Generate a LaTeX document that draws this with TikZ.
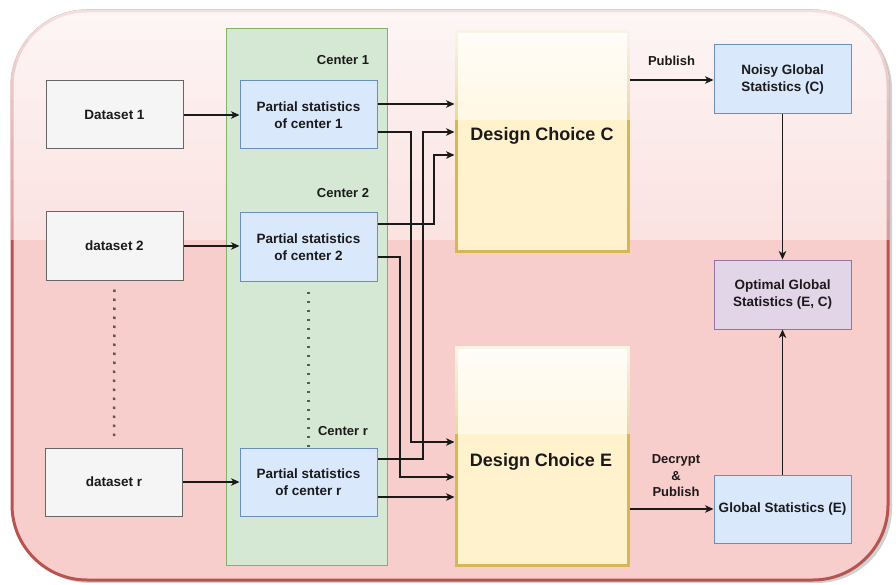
\documentclass[tikz,border=0pt]{standalone}
\usepackage{fontspec}
\setmainfont{Liberation Sans}
\usetikzlibrary{arrows.meta}
\definecolor{grayfill}{HTML}{F5F5F5}
\definecolor{grayline}{HTML}{666666}
\definecolor{bluefill}{HTML}{DAE8FC}
\definecolor{blueline}{HTML}{6C8EBF}
\definecolor{greenfill}{HTML}{D5E8D4}
\definecolor{greenline}{HTML}{82B366}
\definecolor{yellowfill}{HTML}{FFF2CC}
\definecolor{yellowline}{HTML}{D6B656}
\definecolor{purplefill}{HTML}{E1D5E7}
\definecolor{purpleline}{HTML}{9673A6}
\definecolor{redfill}{HTML}{F8CECC}
\definecolor{redline}{HTML}{B85450}
\definecolor{ink}{HTML}{1A1A1A}
\begin{document}
\begin{tikzpicture}[x=1pt,y=-1pt,
  every node/.style={font=\bfseries\fontsize{13.5}{17}\selectfont, text=ink, align=center, inner sep=0pt},
  databox/.style={draw=grayline, fill=grayfill, line width=1pt, minimum width=137pt, minimum height=68pt},
  bluebox/.style={draw=blueline, fill=bluefill, line width=1pt, minimum width=137pt, minimum height=68pt},
  purplebox/.style={draw=purpleline, fill=purplefill, line width=1pt, minimum width=137pt, minimum height=69pt},
  designbox/.style={draw=yellowline, fill=yellowfill, line width=3pt, minimum width=172pt},
  bigtext/.style={font=\bfseries\fontsize{18}{22}\selectfont},
  smalltext/.style={font=\bfseries\fontsize{13}{16.5}\selectfont},
  arr/.style={draw=ink, line width=1.1pt, -{Stealth[length=8.5pt,width=7.5pt,inset=2.5pt]}},
  dots/.style={draw=black!65, line width=2.5pt, dash pattern=on 2.5pt off 6.5pt}
]
\useasboundingbox (0,0) rectangle (896,585);
% outer container with shadow and glass effect
\fill[black, opacity=0.18, rounded corners=75pt] (15,14) rectangle (892,583);
\path[fill=redfill, draw=redline, line width=3pt, rounded corners=75pt] (12,11) rectangle (888,580);
\begin{scope}
  \clip[rounded corners=76.5pt] (10.5,9.5) rectangle (889.5,581.5);
  \foreach \i in {0,...,11} {
    \fill[white, fill opacity={0.82-0.035*\i}] (0,{\i*20}) rectangle (896,{(\i+1)*20});
  }
\end{scope}
% green column
\node[draw=greenline, fill=greenfill, line width=1pt, minimum width=161pt, minimum height=536pt] (col) at (306.5,297) {};
% lane and row helper coordinates
\coordinate (L400) at (400,0);
\coordinate (L411) at (411,0);
\coordinate (L423) at (423,0);
\coordinate (L434) at (434,0);
\coordinate (R80) at (0,80);
\coordinate (R104) at (0,104);
\coordinate (R132) at (0,132);
\coordinate (R155) at (0,155);
\coordinate (R224) at (0,224);
\coordinate (R257) at (0,257);
\coordinate (R442) at (0,442);
\coordinate (R459) at (0,459);
\coordinate (R477) at (0,477);
\coordinate (R497) at (0,497);
\coordinate (R509) at (0,509);
% datasets
\node[databox] (D1) at (114.5,115) {Dataset 1};
\node[databox] (D2) at (114.5,246) {dataset 2};
\node[databox] (Dr) at (114,482) {dataset r};
% partial statistics
\node[bluebox] (P1) at (308.5,115) {Partial statistics\\of center 1};
\node[bluebox] (P2) at (308.5,247) {Partial statistics\\of center 2};
\node[bluebox] (Pr) at (308.5,482) {Partial statistics\\of center r};
\node[smalltext] (c1) at (343,60) {Center 1};
\node[smalltext] (c2) at (343,193) {Center 2};
\node[smalltext] (cr) at (343,431) {Center r};
% design choices
\node[designbox, minimum height=220pt] (DCC) at (542,142) {};
\node[designbox, minimum height=218pt] (DCE) at (542,456) {};
\foreach \i in {0,...,9} {
  \fill[white, fill opacity={0.85-0.04*\i}] (454.5,{30.5+\i*8.95}) rectangle (629.5,{30.5+(\i+1)*8.95});
  \fill[white, fill opacity={0.85-0.04*\i}] (454.5,{345.5+\i*8.85}) rectangle (629.5,{345.5+(\i+1)*8.85});
}
\node[bigtext] (DCCt) at (542,136) {Design Choice C};
\node[bigtext] (DCEt) at (541,462) {Design Choice E};
% results
\node[bluebox, minimum height=69pt] (NG) at (782.5,79.5) {Noisy Global\\Statistics (C)};
\node[purplebox] (OG) at (782.5,294.5) {Optimal Global\\Statistics (E, C)};
\node[bluebox] (GE) at (782.5,509) {Global Statistics (E)};
% dotted continuation marks
\draw[dots] ([yshift=-9pt]D2.south) -- ([yshift=10pt]Dr.north);
\draw[dots] ([yshift=-10pt]P2.south) -- ([yshift=1pt]Pr.north);
% connectors
\draw[arr] (D1.east) -- (D1.east -| P1.west);
\draw[arr] (D2.east) -- (D2.east -| P2.west);
\draw[arr] (Dr.east) -- (Dr.east -| Pr.west);
\draw[arr] (P1.east |- R104) -- (DCC.west |- R104);
\draw[arr] (P1.east |- R132) -| (L411 |- R442) -- (DCE.west |- R442);
\draw[arr] (Pr.east |- R459) -| (L423 |- R132) -- (DCC.west |- R132);
\draw[arr] (P2.east |- R224) -| (L434 |- R155) -- (DCC.west |- R155);
\draw[arr] (P2.east |- R257) -| (L400 |- R477) -- (DCE.west |- R477);
\draw[arr] (Pr.east |- R497) -- (DCE.west |- R497);
\draw[arr] (DCC.east |- R80) -- node[smalltext, above=14pt] {Publish} (NG.west |- R80);
\draw[arr] (NG.south) -- (OG.north);
\draw[arr] (GE.north) -- (OG.south);
\draw[arr] (DCE.east |- R509) -- (GE.west);
\node[smalltext] (dp) at (676,476) {Decrypt\\\&\\Publish};
\end{tikzpicture}
\end{document}
